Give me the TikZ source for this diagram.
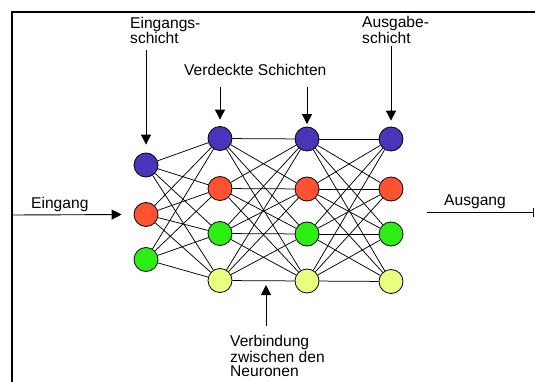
\documentclass[tikz,border=0pt]{standalone}
\usepackage{fontspec}
\setmainfont{Liberation Sans}
\usetikzlibrary{arrows.meta}
\definecolor{cPurple}{RGB}{75,52,185}
\definecolor{cRed}{RGB}{255,82,50}
\definecolor{cGreen}{RGB}{45,238,18}
\definecolor{cYellow}{RGB}{232,255,128}
\begin{document}
\begin{tikzpicture}[x=1pt,y=-1pt,
  neuron/.style={circle,draw=black,line width=0.8pt,minimum size=24pt,inner sep=0pt},
  lbl/.style={anchor=base west,inner sep=0pt,font=\fontsize{15.6}{16}\selectfont},
  blk/.style={anchor=north west,inner sep=0pt,align=left,font=\fontsize{15.6}{14.5}\selectfont},
  arr/.style={line width=0.9pt,-{Triangle[length=10pt,width=10pt]}},
  link/.style={line width=0.75pt}]
\useasboundingbox (0,0) rectangle (535,382);
\fill[white] (0,0) rectangle (535,382);
\draw[line width=2pt] (12,384) -- (12,12) -- (537,12);

% neurons
\node[neuron,fill=cPurple] (i1) at (146,165) {};
\node[neuron,fill=cRed]    (i2) at (146,214.5) {};
\node[neuron,fill=cGreen]  (i3) at (146,259.5) {};

\node[neuron,fill=cPurple] (h1) at (220,138.5) {};
\node[neuron,fill=cRed]    (h2) at (220,188.5) {};
\node[neuron,fill=cGreen]  (h3) at (220,233.5) {};
\node[neuron,fill=cYellow] (h4) at (220,280.5) {};

\node[neuron,fill=cPurple] (k1) at (307,139) {};
\node[neuron,fill=cRed]    (k2) at (307,189) {};
\node[neuron,fill=cGreen]  (k3) at (307,234) {};
\node[neuron,fill=cYellow] (k4) at (307,281) {};

\node[neuron,fill=cPurple] (o1) at (391,139) {};
\node[neuron,fill=cRed]    (o2) at (391,189) {};
\node[neuron,fill=cGreen]  (o3) at (391,234) {};
\node[neuron,fill=cYellow] (o4) at (391,281.5) {};

% links
\foreach \a in {i1,i2,i3} \foreach \b in {h1,h2,h3,h4} \draw[link] (\a) -- (\b);
\foreach \a in {h1,h2,h3,h4} \foreach \b in {k1,k2,k3,k4} \draw[link] (\a) -- (\b);
\foreach \a in {k1,k2,k3,k4} \foreach \b in {o1,o2,o3,o4} \draw[link] (\a) -- (\b);

% labels
\node[lbl] (l1a) at (130,29) {Eingangs-};
\node[lbl] (l1b) at (130,44) {schicht};
\node[lbl] (l2) at (184,76) {Verdeckte Schichten};
\node[lbl] (l3a) at (362,27.5) {Ausgabe-};
\node[lbl] (l3b) at (362,43.5) {schicht};
\node[lbl] (l4) at (31,208) {Eingang};
\node[lbl] (l5) at (444,205) {Ausgang};
\node[blk] (l6) at (230,335) {Verbindung\\zwischen den\\Neuronen};

% arrows
\coordinate (s1) at (146,50);
\coordinate (s2) at (220,87);
\coordinate (s3) at (307,87);
\coordinate (s4) at (391,46);
\coordinate (s5) at (12,215);
\coordinate (s6a) at (266,326);
\coordinate (s6b) at (266,285);
\coordinate (s7a) at (427,212.5);
\coordinate (s7b) at (534,212.5);
\draw[arr,shorten >=8pt] (s1) -- (i1.north);
\draw[arr,shorten >=6.5pt] (s2) -- (h1.north);
\draw[arr,shorten >=2.5pt] (s3) -- (k1.north);
\draw[arr,shorten >=6pt] (s4) -- (o1.north);
\draw[arr,shorten >=12pt] (s5) -- (i2.west);
\draw[arr] (s6a) -- (s6b);
\draw[line width=0.9pt,-{Bar[width=9pt]}] (s7a) -- (s7b);
\end{tikzpicture}
\end{document}
